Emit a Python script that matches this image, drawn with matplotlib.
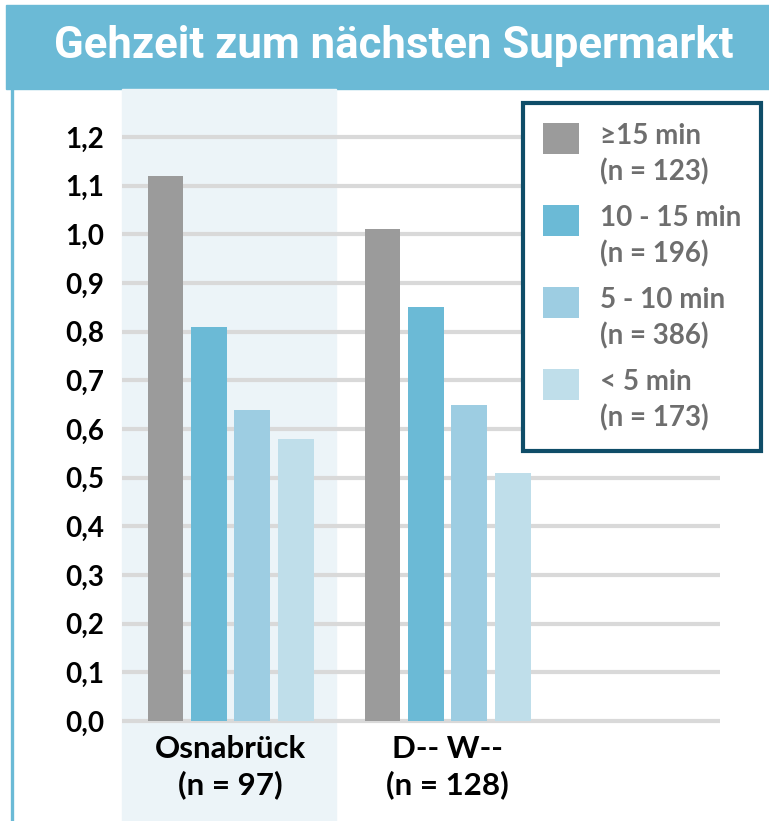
import matplotlib.pyplot as plt
from matplotlib.patches import Patch, Rectangle
from matplotlib.lines import Line2D
from matplotlib.legend_handler import HandlerPatch
from matplotlib.transforms import blended_transform_factory

# Daten
orte = ["Osnabrück\n(n = 97)", "D-- W--\n(n = 128)"]
kategorien = ["≥15 min\n(n = 123)", "10 - 15 min\n(n = 196)",
              "5 - 10 min\n(n = 386)", "< 5 min\n(n = 173)"]
ab15 = [1.12, 1.01]
min10_15 = [0.81, 0.85]
min5_10 = [0.64, 0.65]
unter5 = [0.58, 0.51]
werte = [ab15, min10_15, min5_10, unter5]
yticks = [0.0, 0.1, 0.2, 0.3, 0.4, 0.5, 0.6, 0.7, 0.8, 0.9, 1.0, 1.1, 1.2]
ytick_labels = ["0,0", "0,1", "0,2", "0,3", "0,4", "0,5", "0,6",
                "0,7", "0,8", "0,9", "1,0", "1,1", "1,2"]

farben = ["#9b9b9b", "#6bbad6", "#9dcde2", "#bfdeea"]
teal = "#6bbad6"
schrift = ["Lato", "DejaVu Sans"]

W, H = 769, 821
fig = plt.figure(figsize=(W / 100, H / 100), dpi=100)

# Achse: 0 bei y=721px, 1,2 bei y=137px
px_pro_einheit = (721 - 137) / 1.2
unten = 721 + 0.02 * px_pro_einheit
oben = 137 - 0.02 * px_pro_einheit
ax = fig.add_axes([122 / W, 1 - unten / H, 598 / W, (unten - oben) / H])
ax.set_facecolor("none")

# Titelbalken
fig.patches.append(Rectangle((6 / W, 1 - 89 / H), 763 / W, 84 / H,
                             transform=fig.transFigure, color=teal, zorder=-2))
fig.text(394 / W, 1 - 46 / H, "Gehzeit zum nächsten Supermarkt",
         ha="center", va="center", color="white", fontsize=31.5,
         fontweight="bold", family=["Roboto", "DejaVu Sans"])
fig.lines.append(Line2D([11.5 / W, 11.5 / W], [0, 1 - 89 / H],
                        transform=fig.transFigure, color=teal, lw=2.4, zorder=-2))

# hinterlegte Spalte Osnabrück
trans = blended_transform_factory(ax.transData, fig.transFigure)
fig.patches.append(Rectangle((-0.5, 0), 0.985, 1 - 89 / H, transform=trans,
                             color="#ecf4f8", zorder=-2))

x = [0, 1]
breite = 0.165
abstand = 0.2
for i, (serie, farbe, label) in enumerate(zip(werte, farben, kategorien)):
    pos = [xi + (i - 1.5) * abstand for xi in x]
    ax.bar(pos, serie, width=breite, color=farbe, label=label, zorder=2)

ax.set_xlim(-0.5, 2.255)
ax.set_ylim(-0.02, 1.22)
ax.set_yticks(yticks)
ax.set_yticklabels(ytick_labels, fontsize=20, fontweight="bold", family=schrift)
ax.set_xticks(x)
ax.set_xticklabels(orte, fontsize=22.5, fontweight="bold", family=schrift,
                   linespacing=1.3)
ax.tick_params(axis="y", length=0, pad=13)
ax.tick_params(axis="x", length=0, pad=3)
for s in ax.spines.values():
    s.set_visible(False)
ax.set_axisbelow(True)
ax.yaxis.grid(True, color="#d9d9d9", linewidth=3)


# Legendenfeld auf Höhe der ersten Textzeile
def kaestchen(legend, orig_handle, xdescent, ydescent, width, height, fontsize):
    return Rectangle((-xdescent, -ydescent + 0.6 * fontsize), width, height)


handles = [Patch(facecolor=f, edgecolor="none") for f in farben]
leg = fig.legend(handles, kategorien, loc="upper left",
                 bbox_to_anchor=(523 / W, 1 - 103 / H),
                 prop={"family": schrift, "weight": "bold", "size": 20},
                 frameon=True, fancybox=False, borderaxespad=0, framealpha=1,
                 handlelength=1.3, handleheight=1.3, handletextpad=0.75,
                 labelspacing=0.72, borderpad=0.72, labelcolor="#6e6e6e",
                 handler_map={Patch: HandlerPatch(patch_func=kaestchen)})
leg.get_frame().set_edgecolor("#0f4d68")
leg.get_frame().set_linewidth(3)
for t in leg.get_texts():
    t.set_linespacing(1.4)

fig.savefig("out.png", dpi=100)
